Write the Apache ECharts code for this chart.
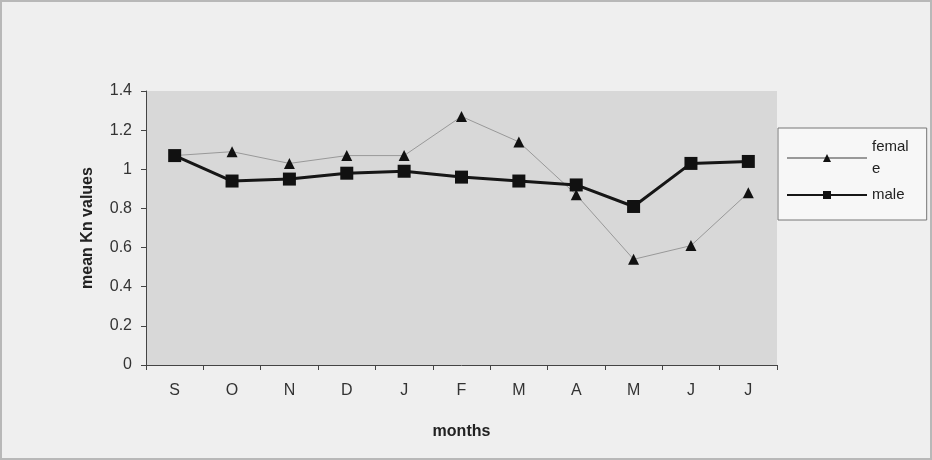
<!DOCTYPE html>
<html><head><meta charset="utf-8">
<script src="https://cdn.jsdelivr.net/npm/echarts@6/dist/echarts.min.js"></script>
<style>html,body{margin:0;padding:0;background:#efefef}#c{width:932px;height:460px}</style>
</head><body><div id="c"></div>
<script>
const months = ['S','O','N','D','J','F','M','A','M','J','J'];
const female = [1.07,1.09,1.03,1.07,1.07,1.27,1.14,0.87,0.54,0.61,0.88];
const male = [1.07,0.94,0.95,0.98,0.99,0.96,0.94,0.92,0.81,1.03,1.04];
const yTicks = [0,0.2,0.4,0.6,0.8,1,1.2,1.4];

const chart = echarts.init(document.getElementById('c'));
chart.setOption({
  backgroundColor: '#efefef',
  animation: false,
  textStyle: {fontFamily: 'Liberation Sans, Arial, sans-serif'},
  graphic: [{type: 'rect', shape: {x: 1, y: 1, width: 930, height: 458},
    style: {fill: 'none', stroke: '#b8b8b8', lineWidth: 2}, silent: true}],
  grid: {left: 146, right: 155, top: 91, bottom: 95, show: true, backgroundColor: '#d8d8d8', borderWidth: 0},
  legend: {
    left: 778, top: 128, orient: 'vertical', itemWidth: 80, itemHeight: 10, itemGap: 4,
    backgroundColor: '#f7f7f7', borderColor: '#777', borderWidth: 1, padding: [8, 18, 14, 8],
    textStyle: {fontSize: 15, color: '#222', lineHeight: 22},
    formatter: n => n === 'female' ? 'femal\ne' : n,
    data: ['female','male']
  },
  xAxis: {
    type: 'category', data: months, boundaryGap: true,
    name: 'months', nameLocation: 'middle', nameGap: 59,
    nameTextStyle: {fontSize: 16, fontWeight: 'bold', color: '#222'},
    axisLine: {lineStyle: {color: '#444', width: 1}},
    axisTick: {show: true, length: 5, lineStyle: {color: '#444'}},
    axisLabel: {fontSize: 16, color: '#333', margin: 18}
  },
  yAxis: {
    type: 'value', min: 0, max: 1.4, interval: 0.2,
    name: 'mean Kn values', nameLocation: 'middle', nameGap: 50,
    nameTextStyle: {fontSize: 16, fontWeight: 'bold', color: '#222'},
    axisLine: {show: true, lineStyle: {color: '#444', width: 1}},
    axisTick: {show: true, length: 5, lineStyle: {color: '#444'}},
    splitLine: {show: false},
    axisLabel: {fontSize: 16, color: '#333', margin: 14,
      formatter: v => { const t = yTicks.find(x => Math.abs(x - v) < 1e-9); return t === undefined ? '' : String(+t.toFixed(1)); }}
  },
  series: [
    {name: 'female', type: 'line', data: female, symbol: 'triangle', symbolSize: 11,
     lineStyle: {color: '#999999', width: 1}, itemStyle: {color: '#111'}},
    {name: 'male', type: 'line', data: male, symbol: 'rect', symbolSize: 13,
     lineStyle: {color: '#161616', width: 3}, itemStyle: {color: '#111'}, z: 3}
  ]
});
</script></body></html>
